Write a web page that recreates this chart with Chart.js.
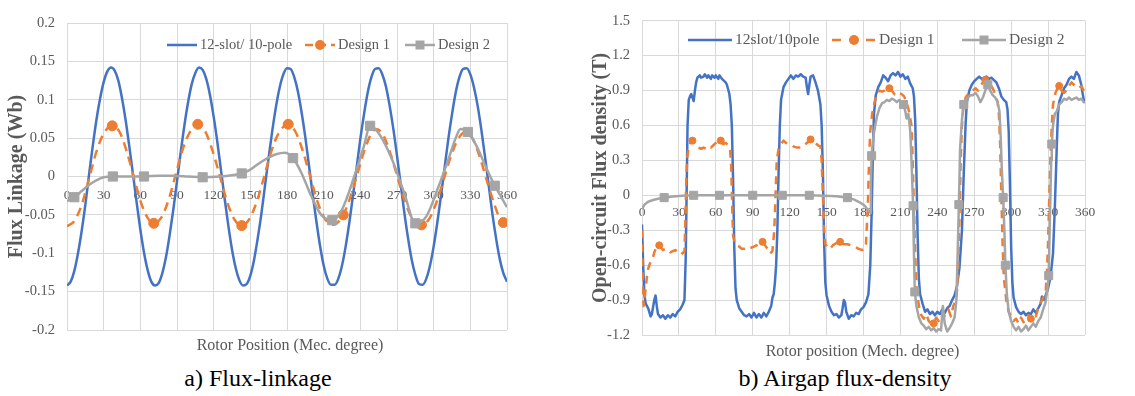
<!DOCTYPE html>
<html><head><meta charset="utf-8">
<script src="https://cdn.jsdelivr.net/npm/chart.js@4.4.1/dist/chart.umd.min.js"></script>
<style>
html,body{margin:0;padding:0;background:#fff;}
#wrap{position:relative;width:1135px;height:396px;overflow:hidden;font-family:"Liberation Serif","Times New Roman",serif;}
canvas{position:absolute;}
#ca{left:0;top:0;}
#cb{left:575px;top:0;}
.cap{position:absolute;font-size:24px;color:#000;white-space:nowrap;transform:translateX(-50%);line-height:24px;}
</style></head><body>
<div id="wrap">
<canvas id="ca" width="560" height="357"></canvas>
<canvas id="cb" width="560" height="362"></canvas>
<div class="cap" style="left:258px;top:366px">a) Flux-linkage</div>
<div class="cap" style="left:845px;top:366px">b) Airgap flux-density</div>
</div>
<script>
// ---------------- axis ticks ----------------
const xTicks = [0,30,60,90,120,150,180,210,240,270,300,330,360];
const xTickLabels = ["0","30","60","90","120","150","180","210","240","270","300","330","360"];
const yTicksA = [-0.2,-0.15,-0.1,-0.05,0,0.05,0.1,0.15,0.2];
const yTickLabelsA = ["-0.2","-0.15","-0.1","-0.05","0","0.05","0.1","0.15","0.2"];
const yTicksB = [-1.2,-0.9,-0.6,-0.3,0,0.3,0.6,0.9,1.2,1.5];
const yTickLabelsB = ["-1.2","-0.9","-0.6","-0.3","0","0.3","0.6","0.9","1.2","1.5"];
const seriesNamesA = ["12-slot/ 10-pole","Design 1","Design 2"];
const seriesNamesB = ["12slot/10pole","Design 1","Design 2"];

// ---------------- a) flux linkage (Wb) ----------------
const fluxBlueX = [0,3,6,9,12,15,18,21,24,27,30,33,36,39,42,45,48,51,54,57,60,63,66,69,72,
 75,78,81,84,87,90,93,96,99,102,105,108,111,114,117,120,123,126,129,132,135,138,141,144,
 147,150,153,156,159,162,165,168,171,174,177,180,183,186,189,192,195,198,201,204,207,210,213,216,
 219,222,225,228,231,234,237,240,243,246,249,252,255,258,261,264,267,270,273,276,279,282,285,288,
 291,294,297,300,303,306,309,312,315,318,321,324,327,330,333,336,339,342,345,348,351,354,357,360];
const fluxBlueY = [-0.142,-0.137,-0.123,-0.100,-0.071,-0.037,0.002,0.039,0.073,0.101,0.123,0.137,0.142,0.138,0.125,0.102,0.073,0.039,0.003,-0.034,-0.069,-0.099,-0.122,-0.137,-0.142,
 -0.139,-0.126,-0.105,-0.076,-0.043,-0.006,0.031,0.066,0.096,0.120,0.135,0.142,0.139,0.127,0.106,0.078,0.045,0.008,-0.029,-0.064,-0.095,-0.119,-0.135,-0.142,
 -0.140,-0.129,-0.109,-0.081,-0.049,-0.012,0.025,0.060,0.091,0.116,0.133,0.141,0.140,0.129,0.110,0.083,0.051,0.014,-0.023,-0.058,-0.090,-0.116,-0.133,-0.141,
 -0.141,-0.133,-0.116,-0.091,-0.060,-0.025,0.012,0.049,0.081,0.109,0.129,0.140,0.141,0.133,0.117,0.092,0.062,0.027,-0.010,-0.047,-0.080,-0.108,-0.128,-0.140,
 -0.141,-0.133,-0.116,-0.091,-0.060,-0.025,0.012,0.049,0.081,0.109,0.129,0.140,0.141,0.133,0.116,0.092,0.061,0.026,-0.011,-0.048,-0.080,-0.107,-0.126,-0.137];
const fluxD1 = [[0,-0.065],[6,-0.058],[12,-0.037],[18,-0.003],[24,0.032],[30,0.056],[37,0.066],[43,0.058],[49,0.032],[55,-0.003],[61,-0.036],[66,-0.054],[71,-0.061],
 [77,-0.054],[83,-0.031],[89,0.003],[95,0.037],[101,0.059],[107,0.068],[113,0.059],[119,0.034],[125,0.001],[131,-0.033],[137,-0.056],[143,-0.064],
 [149,-0.056],[155,-0.034],[161,-0.002],[167,0.032],[173,0.056],[181,0.068],[187,0.058],[193,0.033],[199,0.000],[205,-0.033],[211,-0.055],[218,-0.063],
 [226,-0.050],[232,-0.026],[238,0.006],[244,0.037],[249,0.056],[253,0.062],[259,0.053],[265,0.028],[271,-0.004],[277,-0.035],[283,-0.056],[290,-0.063],
 [296,-0.056],[302,-0.035],[308,-0.005],[314,0.026],[320,0.049],[326,0.058],[332,0.049],[338,0.024],[344,-0.008],[350,-0.038],[354,-0.054],[357,-0.060],[360,-0.062]];
const fluxD1Markers = [37,71,107,143,181,226,290,357];
const fluxD2 = [[0,-0.032],[6,-0.027],[12,-0.019],[18,-0.011],[24,-0.005],[30,-0.001],[37.5,0],[50,0],[63,0],[75,0.001],[87,0.001],[99,0],[111,-0.001],
 [125,0],[136,0.002],[143,0.004],[150,0.009],[157,0.017],[164,0.024],[171,0.029],[178,0.031],[185,0.024],[192,0.004],[200,-0.026],[208,-0.050],[217,-0.057],
 [225,-0.043],[235,0],[243,0.040],[248,0.066],[256,0.054],[266,0.022],[276,-0.022],[285,-0.061],[294,-0.052],[304,-0.013],[312,0.022],[318,0.050],[322,0.062],
 [328,0.058],[335,0.040],[342,0.015],[350,-0.012],[355,-0.026],[360,-0.040]];
const fluxD2Markers = [6,37.5,63,111,143,185,217,248,285,328,350];

// ---------------- b) airgap flux density (T) ----------------
const densBlue = [[0,-0.25],[1,-0.62],[2,-0.86],[3,-0.93],[5,-0.97],[7,-1.04],[8,-1.02],[9,-0.96],[10,-0.9],[11,-0.86],[12,-0.95],[13,-1.02],[15,-1.05],[17,-1.03],[19,-1.06],[21,-1.03],[23,-1.05],[25,-1.02],[27,-1.04],[29,-1.0],[31,-0.98],[33,-0.94],[34.5,-0.9],[35.5,-0.55],[36.3,0.05],[37,0.6],[38,0.82],[39,0.85],[40,0.87],[41,0.84],[42,0.81],[43,0.9],[44,0.97],[45,1.01],[47,1.03],[48,1.01],[50,1.02],[51,1.04],[53,1.01],[54,1.03],[56,1.0],[57,1.03],[59,1.01],[60,1.03],[62,1.0],[63,1.03],[65,1.0],[66,0.99],[68,0.97],[69,0.95],[71,0.87],[72,0.78],[73,0.6],[74,0.15],[75,-0.45],[76,-0.8],[77,-0.9],[79,-0.97],[81,-1.0],[83,-1.03],[85,-1.04],[87,-1.02],[89,-1.05],[91,-1.01],[93,-1.05],[95,-1.02],[97,-1.05],[99,-1.01],[101,-1.04],[103,-1.0],[105,-0.95],[106,-0.88],[107,-0.85],[108,-0.75],[109,-0.6],[110,-0.3],[111,0.2],[112,0.6],[113,0.82],[115,0.93],[117,0.97],[119,1.0],[121,1.03],[123,1.0],[125,1.03],[127,1.02],[129,1.04],[131,1.02],[133,1.01],[134,0.93],[135,0.87],[136,0.95],[137,1.02],[139,1.03],[141,0.97],[143,0.9],[145,0.78],[146,0.6],[147,0.2],[148,-0.4],[149,-0.75],[150,-0.86],[152,-0.95],[154,-1.0],[156,-1.03],[158,-1.02],[160,-1.05],[162,-1.03],[163,-0.97],[164,-0.9],[165,-0.92],[166,-1.0],[168,-1.06],[170,-1.03],[172,-1.04],[174,-1.01],[176,-1.02],[178,-0.98],[180,-0.96],[182,-0.92],[184,-0.85],[185.5,-0.6],[186.5,-0.2],[187.5,0.3],[188.5,0.7],[190,0.86],[192,0.93],[194,0.97],[196,1.03],[198,1.01],[200,0.98],[202,1.03],[204,1.05],[206,1.03],[208,1.06],[210,1.02],[212,1.04],[214,1.0],[216,1.02],[218,0.96],[220,0.92],[221,0.85],[222,0.65],[223,0.2],[224,-0.35],[225,-0.72],[226,-0.85],[228,-0.93],[230,-1.0],[232,-0.98],[234,-1.02],[236,-1.0],[238,-1.03],[240,-1.0],[242,-1.02],[244,-0.98],[246,-1.01],[248,-0.97],[250,-0.95],[252,-0.9],[254,-0.86],[256,-0.78],[258,-0.62],[260,-0.3],[261.5,0.2],[263,0.62],[264,0.8],[266,0.9],[268,0.95],[270,0.98],[272,1.0],[274,1.02],[276,1.0],[278,1.01],[280,1.02],[282,1.0],[284,1.01],[286,0.99],[288,0.97],[290,0.92],[292,0.85],[294,0.82],[296,0.8],[297,0.74],[298,0.55],[299,0.1],[300,-0.45],[301,-0.75],[302,-0.88],[304,-0.96],[306,-1.0],[308,-1.02],[310,-1.0],[312,-1.03],[314,-1.01],[316,-1.02],[318,-0.98],[320,-1.01],[322,-0.97],[324,-0.93],[325,-0.87],[327,-0.9],[328,-0.86],[330,-0.8],[332,-0.7],[334,-0.5],[335.5,-0.1],[337,0.4],[338,0.7],[339,0.8],[341,0.86],[343,0.92],[345,0.95],[347,1.0],[349,1.02],[351,1.0],[353,1.06],[355,1.03],[357,0.95],[358,0.88],[359,0.82],[360,0.8]];
const densD1 = [[0,-0.3],[0.7,-0.8],[1.3,-0.95],[2,-0.9],[3,-0.8],[4,-0.7],[5,-0.63],[7,-0.57],[9,-0.53],[10,-0.49],[11.5,-0.45],[13,-0.43],[14,-0.43],[15,-0.44],[17,-0.47],[19,-0.46],[21,-0.47],[23,-0.49],[25,-0.48],[27,-0.47],[29,-0.49],[31,-0.48],[33,-0.5],[34.5,-0.48],[35.3,-0.2],[36,0.15],[36.8,0.33],[38,0.42],[39.5,0.45],[41,0.47],[42.5,0.44],[44,0.42],[46,0.41],[48,0.4],[50,0.41],[52,0.4],[54,0.42],[56,0.41],[58,0.43],[60,0.45],[62,0.46],[64,0.47],[66,0.44],[68,0.45],[70,0.43],[71.5,0.4],[72.5,0.25],[73.3,-0.1],[74,-0.35],[75.5,-0.41],[77,-0.43],[79,-0.44],[81,-0.46],[83,-0.46],[85,-0.45],[87,-0.44],[89,-0.45],[91,-0.44],[93,-0.43],[95,-0.42],[98,-0.4],[100,-0.43],[102,-0.46],[104,-0.5],[106,-0.48],[107.5,-0.3],[108.5,0.0],[109.5,0.3],[111,0.4],[113,0.44],[115,0.47],[117,0.45],[120,0.44],[123,0.42],[126,0.41],[129,0.41],[132,0.43],[135,0.46],[137,0.48],[139,0.46],[141,0.45],[143,0.43],[145,0.42],[146,0.3],[147,0.0],[148,-0.3],[149,-0.42],[151,-0.45],[153,-0.46],[155,-0.43],[158,-0.41],[161,-0.4],[164,-0.42],[167,-0.42],[170,-0.43],[173,-0.44],[176,-0.46],[179,-0.47],[181,-0.46],[182,-0.42],[183.5,-0.1],[184.5,0.3],[185.5,0.55],[187,0.7],[189,0.8],[191,0.88],[193,0.9],[195,0.89],[197,0.9],[199,0.92],[201,0.92],[203,0.9],[205,0.87],[207,0.86],[209,0.88],[211,0.87],[213,0.85],[215,0.8],[217,0.72],[219,0.6],[220,0.3],[221,-0.1],[222,-0.5],[223,-0.78],[225,-0.95],[227,-1.03],[229,-1.06],[231,-1.02],[233,-1.08],[235,-1.1],[237,-1.1],[239,-1.05],[241,-1.08],[243,-1.03],[245,-1.06],[247,-1.0],[249,-0.98],[251,-1.04],[253,-0.95],[255,-0.9],[256,-0.82],[257,-0.6],[258,-0.2],[259,0.3],[260,0.6],[261,0.75],[263,0.84],[265,0.87],[267,0.88],[269,0.9],[271,0.92],[273,0.9],[275,0.94],[277,0.97],[279,0.99],[281,0.97],[283,0.95],[285,0.92],[287,0.87],[289,0.8],[290,0.7],[291,0.45],[292,0.0],[293,-0.4],[294,-0.7],[296,-0.9],[298,-1.0],[300,-1.04],[302,-1.08],[304,-1.06],[306,-1.1],[308,-1.05],[310,-1.09],[312,-1.07],[314,-1.03],[316,-1.06],[318,-1.02],[320,-1.04],[322,-0.97],[324,-0.92],[326,-0.88],[328,-0.83],[329,-0.68],[330,-0.4],[331,0.0],[332,0.35],[333,0.6],[334,0.78],[336,0.88],[338,0.93],[339,0.94],[341,0.9],[343,0.88],[345,0.9],[347,0.94],[349,0.97],[351,0.95],[353,0.93],[355,0.92],[357,0.94],[359,0.9],[360,0.88]];
const densD1Markers = [14,41,64,98,137,161,201,237,279,316,339];
const densD2 = [[0,-0.12],[2,-0.08],[5,-0.055],[9,-0.04],[13,-0.03],[18,-0.02],[25,-0.01],[33,-0.004],[42,0],[52,0],[63,0],[76,0],[90,0],[102,0],[114,0],[125,0],[136,0],[148,-0.003],[158,-0.008],[167,-0.02],[172,-0.035],[177,-0.06],[181,-0.09],[184,-0.13],[185.5,-0.15],[186,0.1],[186.6,0.34],[188,0.5],[189.5,0.6],[191,0.68],[193,0.75],[195,0.79],[197,0.8],[199,0.82],[201,0.81],[203,0.83],[205,0.82],[207,0.8],[209,0.82],[211,0.8],[212.5,0.78],[214,0.72],[215,0.66],[216.5,0.7],[218,0.55],[219,0.3],[220.3,-0.09],[221,-0.5],[221.7,-0.83],[223,-0.95],[225,-1.05],[227,-1.1],[229,-1.12],[231,-1.15],[233,-1.13],[235,-1.16],[237,-1.14],[239,-1.17],[241,-1.15],[243,-1.16],[244.5,-0.95],[246,-1.1],[248,-1.17],[250,-1.14],[252,-1.1],[254,-1.05],[255.5,-0.9],[256.5,-0.5],[257.5,-0.08],[258.5,0.4],[260,0.65],[261.5,0.78],[263,0.82],[265,0.84],[267,0.86],[269,0.86],[271,0.88],[273,0.85],[275,0.8],[277,0.84],[279,0.9],[281,0.95],[283,0.9],[285,0.86],[287,0.84],[289,0.8],[290.5,0.72],[291.5,0.5],[292.5,0.2],[293.5,-0.02],[294.5,-0.3],[295.3,-0.6],[296.5,-0.85],[298,-1.0],[300,-1.08],[302,-1.13],[304,-1.16],[306,-1.13],[308,-1.17],[310,-1.15],[312,-1.12],[314,-1.16],[316,-1.13],[318,-1.1],[320,-1.13],[322,-1.08],[324,-1.05],[326,-0.98],[328,-0.92],[329.5,-0.8],[330.5,-0.69],[331.5,-0.2],[332.5,0.3],[333,0.44],[334,0.6],[335.5,0.7],[337,0.72],[339,0.78],[341,0.8],[343,0.83],[345,0.82],[347,0.84],[349,0.82],[351,0.83],[353,0.84],[355,0.82],[357,0.83],[359,0.8],[360,0.8]];
const densD2Markers = [18,42,63,90,114,136,167,186.6,212.5,220.3,221.7,257.5,261.5,281,293.5,295.3,330.5,333];

// ---------------- helpers ----------------
const FONT = "'Liberation Serif','Times New Roman',serif";
const GREY_TXT = '#595959', GRID = '#D9D9D9';
const C_BLUE = '#4472C4', C_ORANGE = '#ED7D31', C_GREY = '#A5A5A5';
const fromXY = (xs, ys) => xs.map((x, i) => ({x: x, y: ys[i]}));
const fromPairs = p => p.map(v => ({x: v[0], y: v[1]}));
function markerIndexSet(points, marks) {
  const s = new Set();
  marks.forEach(m => {
    let best = 0, bd = Infinity;
    points.forEach((p, i) => { const d = Math.abs(p.x - m); if (d < bd) { bd = d; best = i; } });
    s.add(best);
  });
  return s;
}

// legend drawn inside the plot area + x-axis title centred under the plot
const insideLegend = {
  id: 'insideLegend',
  afterDraw(chart, args, o) {
    const ctx = chart.ctx, ca = chart.chartArea;
    ctx.save();
    ctx.font = o.font;
    ctx.textBaseline = 'middle';
    ctx.textAlign = 'left';
    chart.data.datasets.forEach((d, i) => {
      const x0 = o.xs[i], y = o.y;
      ctx.strokeStyle = d.borderColor;
      ctx.lineWidth = d.borderWidth;
      ctx.setLineDash(d.legendDash || []);
      ctx.beginPath(); ctx.moveTo(x0, y); ctx.lineTo(x0 + o.len, y); ctx.stroke();
      ctx.setLineDash([]);
      const cx = x0 + o.len / 2;
      ctx.fillStyle = d.borderColor;
      if (d.legendMark === 'circle') { ctx.beginPath(); ctx.arc(cx, y, d.legendSize, 0, Math.PI * 2); ctx.fill(); }
      else if (d.legendMark === 'rect') { ctx.fillRect(cx - d.legendSize, y - d.legendSize, d.legendSize * 2, d.legendSize * 2); }
      ctx.fillStyle = o.color;
      ctx.fillText(d.label, x0 + o.len + o.gap, y);
    });
    // x-axis title
    ctx.font = o.xTitleFont;
    ctx.textAlign = 'center';
    ctx.fillStyle = o.color;
    ctx.fillText(o.xTitle, (ca.left + ca.right) / 2 + o.xTitleDx, ca.bottom + o.xTitleDy);
    ctx.restore();
  }
};

function series(name, pts, color, opt) {
  const marks = opt.marks ? markerIndexSet(pts, opt.marks) : new Set();
  return {
    label: name, data: pts, borderColor: color, backgroundColor: color,
    borderWidth: opt.width, borderDash: opt.dash || [], legendDash: opt.legendDash || opt.dash || [],
    borderJoinStyle: 'round', borderCapStyle: 'butt',
    pointStyle: opt.style || 'circle',
    pointRadius: c => marks.has(c.dataIndex) ? opt.r : 0,
    pointHoverRadius: 0, pointHitRadius: 0,
    pointBackgroundColor: color, pointBorderColor: color, pointBorderWidth: 1,
    legendMark: opt.marks ? (opt.style || 'circle') : null, legendSize: opt.legendSize || 0,
    tension: opt.mono ? 0.4 : 0, cubicInterpolationMode: opt.mono ? 'monotone' : 'default',
    fill: false, order: opt.order
  };
}

function makeChart(id, cfg) {
  return new Chart(document.getElementById(id), {
    type: 'line',
    data: { datasets: cfg.datasets },
    plugins: [insideLegend],
    options: {
      responsive: false, animation: false, events: [],
      layout: { padding: { left: 0, right: cfg.padRight, top: cfg.padTop, bottom: cfg.padBottom } },
      plugins: {
        legend: { display: false }, tooltip: { enabled: false }, title: { display: false },
        insideLegend: cfg.legend
      },
      scales: {
        x: {
          type: 'linear', min: 0, max: 360, position: { y: 0 },
          afterBuildTicks: s => { s.ticks = xTicks.map(v => ({ value: v })); },
          ticks: { callback: (v, i) => xTickLabels[i], color: GREY_TXT, font: { family: FONT, size: 13.5 },
                   padding: cfg.xPad, maxRotation: 0, autoSkip: false },
          grid: { color: GRID, lineWidth: 1, drawTicks: false },
          border: { display: true, color: GRID }
        },
        y: {
          type: 'linear', min: cfg.yTicks[0], max: cfg.yTicks[cfg.yTicks.length - 1], position: 'left',
          afterBuildTicks: s => { s.ticks = cfg.yTicks.map(v => ({ value: v })); },
          afterFit: s => { s.width = 67; },
          ticks: { callback: (v, i) => cfg.yLabels[i], color: GREY_TXT, font: { family: FONT, size: 14.5 }, padding: 12 },
          grid: { color: GRID, lineWidth: 1, drawTicks: false },
          border: { display: true, color: GRID },
          title: { display: true, text: cfg.yTitle, color: GREY_TXT,
                   font: { family: FONT, size: 20, weight: 'bold' }, padding: { top: cfg.yTitlePad, bottom: 0 } }
        }
      }
    }
  });
}

// ---------------- chart a ----------------
makeChart('ca', {
  yTitle: 'Flux Linkage (Wb)', yTitlePad: 5,
  yTicks: yTicksA, yLabels: yTickLabelsA, padRight: 53, padTop: 23, padBottom: 27, xPad: 11,
  legend: { xs: [167, 305, 405], y: 45, len: 30, gap: 3, font: "14.5px " + FONT, color: GREY_TXT,
            xTitle: 'Rotor Position (Mec. degree)', xTitleFont: "16px " + FONT, xTitleDx: 3, xTitleDy: 16 },
  datasets: [
    series(seriesNamesA[0], fromXY(fluxBlueX, fluxBlueY), C_BLUE, { width: 2.5, mono: true, order: 2 }),
    series(seriesNamesA[1], fromPairs(fluxD1), C_ORANGE, { width: 2.5, dash: [9, 6], legendDash: [8, 5], mono: true, marks: fluxD1Markers, style: 'circle', r: 5, legendSize: 5, order: 1 }),
    series(seriesNamesA[2], fromPairs(fluxD2), C_GREY, { width: 2.5, mono: true, marks: fluxD2Markers, style: 'rect', r: 6.5, legendSize: 4.5, order: 0 })
  ]
});

// ---------------- chart b ----------------
makeChart('cb', {
  yTitle: 'Open-circuit Flux density (T)', yTitlePad: 14,
  yTicks: yTicksB, yLabels: yTickLabelsB, padRight: 50, padTop: 17, padBottom: 27, xPad: 9,
  legend: { xs: [113, 257, 387], y: 40, len: 44, gap: 3, font: "15.5px " + FONT, color: GREY_TXT,
            xTitle: 'Rotor position (Mech. degree)', xTitleFont: "16px " + FONT, xTitleDx: -1, xTitleDy: 17 },
  datasets: [
    series(seriesNamesB[0], fromPairs(densBlue), C_BLUE, { width: 2.5, order: 2 }),
    series(seriesNamesB[1], fromPairs(densD1), C_ORANGE, { width: 2.5, dash: [8, 6], legendDash: [9, 8], marks: densD1Markers, style: 'circle', r: 3.5, legendSize: 5, order: 1 }),
    series(seriesNamesB[2], fromPairs(densD2), C_GREY, { width: 2.5, marks: densD2Markers, style: 'rect', r: 5.7, legendSize: 4.5, order: 0 })
  ]
});
</script>
</body></html>
